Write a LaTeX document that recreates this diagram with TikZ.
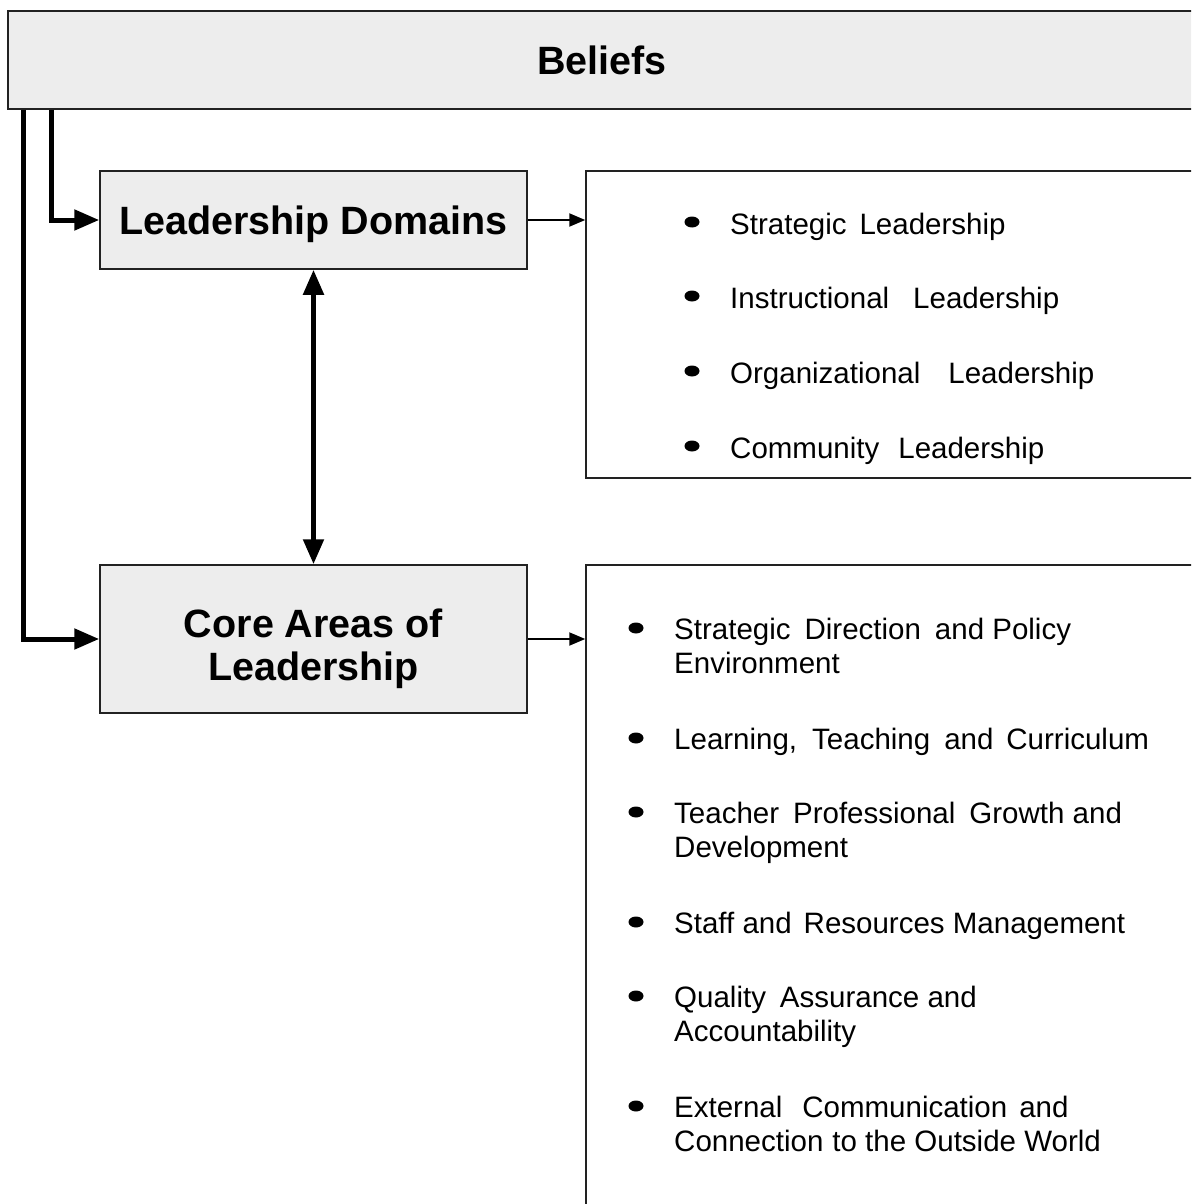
\documentclass[tikz,border=0pt]{standalone}
\usepackage{fontspec}
\setmainfont{Liberation Sans}
\usetikzlibrary{arrows.meta,shapes.geometric}
\definecolor{boxgray}{HTML}{EDEDED}
\definecolor{edge}{HTML}{222222}
\newcommand{\gp}[1]{\hspace{#1pt}}
\begin{document}
\begin{tikzpicture}[x=1pt,y=-1pt,
  graybox/.style={draw=edge, line width=1.5pt, fill=boxgray, inner sep=0pt, align=center,
    font=\fontsize{39.5}{44}\selectfont\bfseries},
  headtext/.style={font=\fontsize{39.5}{44}\selectfont\bfseries, anchor=base, inner sep=0pt},
  listbox/.style={draw=edge, line width=1.5pt, fill=white, inner sep=0pt},
  bigarrow/.style={line width=5pt, line join=miter, -{Triangle[length=25pt,width=20pt]}},
  twoarrow/.style={line width=5pt, {Triangle[length=25pt,width=20pt]}-{Triangle[length=25pt,width=20pt]}},
  thinarrow/.style={line width=2pt, -{Triangle[length=16pt,width=13pt]}},
  itemtext/.style={font=\fontsize{29.5}{34}\selectfont, anchor=base west, inner sep=0pt},
  bullet/.style={ellipse, fill=black, inner sep=0pt, minimum width=15pt, minimum height=11pt}
]
\useasboundingbox (0,0) rectangle (1191,1204);
\clip (0,0) rectangle (1191,1204);

% boxes
\node[graybox, minimum width=1188pt, minimum height=98pt] (beliefs) at (602,60) {Beliefs};
\node[graybox, minimum width=427pt, minimum height=98pt, text depth=0pt] (ld) at (313.5,220) {Leadership Domains};
\node[graybox, minimum width=427pt, minimum height=148pt] (core) at (313.5,639) {};
\node[headtext] (coreA) at (313.5,637) {Core Areas of};
\node[headtext] (coreB) at (313.5,680) {Leadership};
\node[listbox, minimum width=614pt, minimum height=307pt] (list1) at (893,324.5) {};
\node[listbox, minimum width=614pt, minimum height=660pt] (list2) at (893,895) {};

% connectors
\draw[bigarrow] ([xshift=44pt]beliefs.south west) |- (ld.west);
\draw[bigarrow] ([xshift=16pt]beliefs.south west) |- (core.west);
\draw[twoarrow] (ld.south) -- (core.north);
\draw[thinarrow] (ld.east) -- (ld.east -| list1.west);
\draw[thinarrow] (core.east) -- (core.east -| list2.west);

% list 1
\node[bullet] (b1) at (692,222) {};
\node[itemtext] (t1) at (730,234) {Strategic\gp{13}Leadership};
\node[bullet] (b2) at (692,296) {};
\node[itemtext] (t2) at (730,308) {Instructional\gp{24}Leadership};
\node[bullet] (b3) at (692,371) {};
\node[itemtext] (t3) at (730,383) {Organizational\gp{28}Leadership};
\node[bullet] (b4) at (692,446) {};
\node[itemtext] (t4) at (730,458) {Community\gp{19}Leadership};

% list 2
\node[bullet] (c1) at (636,628) {};
\node[itemtext] (u1a) at (674,639) {Strategic\gp{14}Direction\gp{14}and Policy};
\node[itemtext] (u1b) at (674,673) {Environment};
\node[bullet] (c2) at (636,738) {};
\node[itemtext] (u2) at (674,749) {Learning,\gp{15}Teaching\gp{14}and\gp{13}Curriculum};
\node[bullet] (c3) at (636,812) {};
\node[itemtext] (u3a) at (674,823) {Teacher\gp{14}Professional\gp{14}Growth and};
\node[itemtext] (u3b) at (674,857) {Development};
\node[bullet] (c4) at (636,922) {};
\node[itemtext] (u4) at (674,933) {Staff and\gp{12}Resources Management};
\node[bullet] (c5) at (636,996) {};
\node[itemtext] (u5a) at (674,1007) {Quality\gp{14}Assurance and};
\node[itemtext] (u5b) at (674,1041) {Accountability};
\node[bullet] (c6) at (636,1106) {};
\node[itemtext] (u6a) at (674,1117) {External\gp{20}Communication\gp{12}and};
\node[itemtext] (u6b) at (674,1151) {Connection\gp{9}to the Outside World};
\end{tikzpicture}
\end{document}
